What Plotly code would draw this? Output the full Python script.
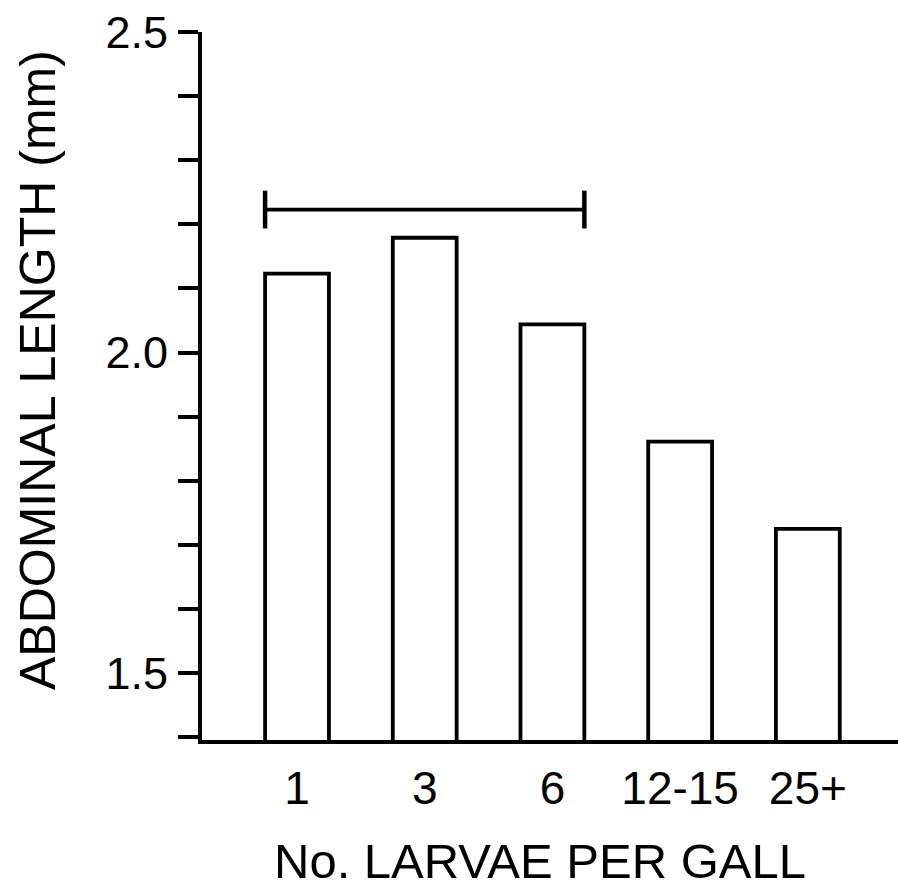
import plotly.graph_objects as go

# Mean abdominal length by number of larvae sharing a gall
groups = ["1", "3", "6", "12-15", "25+"]
abdominal_length = [2.123, 2.179, 2.044, 1.861, 1.725]

# Bracket joining the groups that do not differ significantly
bracket_groups = ["1", "3", "6"]
bracket_level = 2.223

FONT = "Liberation Sans, Arial, Helvetica, sans-serif"

x_pos = list(range(len(groups)))
bw = 0.5

fig = go.Figure()

fig.add_trace(go.Bar(
    x=x_pos,
    y=abdominal_length,
    base=0,
    width=bw,
    marker=dict(color="white", line=dict(color="black", width=3.8)),
    showlegend=False,
    hoverinfo="skip",
))

# Bracket spans from the left edge of the first grouped bar to the right edge of the last
i0 = groups.index(bracket_groups[0])
i1 = groups.index(bracket_groups[-1])
fig.add_trace(go.Scatter(
    x=[i0 - bw / 2, i1 + bw / 2],
    y=[bracket_level, bracket_level],
    mode="lines+markers",
    line=dict(color="black", width=3.8),
    marker=dict(symbol="line-ns", size=27, line=dict(color="black", width=4.5)),
    showlegend=False,
    hoverinfo="skip",
))

fig.update_layout(
    width=898,
    height=894,
    margin=dict(l=202, r=0, t=32, b=154),
    paper_bgcolor="white",
    plot_bgcolor="white",
    font=dict(family=FONT, color="black"),
    xaxis=dict(
        range=[-0.744, 4.706],
        tickvals=x_pos,
        ticktext=groups,
        ticks="",
        showgrid=False,
        zeroline=False,
        showline=True,
        linecolor="black",
        linewidth=3.8,
        tickfont=dict(size=46, family=FONT, color="black"),
        ticklabelstandoff=5,
    ),
    yaxis=dict(
        range=[1.3955, 2.5],
        tickvals=[1.5, 2.0, 2.5],
        ticktext=["1.5", "2.0", "2.5"],
        ticks="outside",
        ticklen=20,
        tickwidth=3.8,
        tickcolor="black",
        minor=dict(dtick=0.1, tick0=1.5, ticks="outside", ticklen=20,
                   tickwidth=3.8, tickcolor="black", showgrid=False),
        showgrid=False,
        zeroline=False,
        showline=True,
        linecolor="black",
        linewidth=3.8,
        tickfont=dict(size=45, family=FONT, color="black"),
        ticklabelstandoff=1,
    ),
)

# Axis titles placed in pixel terms relative to the plot area
pl, pt, pw, ph = 202, 32, 898 - 202, 894 - 32 - 154
fig.add_annotation(
    text="No. LARVAE PER GALL", xref="paper", yref="paper",
    x=(540 - pl) / pw, y=1 - (861 - pt) / ph, xanchor="center", yanchor="middle",
    showarrow=False, font=dict(size=49, family=FONT, color="black"),
)
fig.add_annotation(
    text="ABDOMINAL LENGTH (mm)", textangle=-90, xref="paper", yref="paper",
    x=(38 - pl) / pw, y=1 - (370 - pt) / ph, xanchor="center", yanchor="middle",
    showarrow=False, font=dict(size=50, family=FONT, color="black"),
)

fig.write_html("out.html")
